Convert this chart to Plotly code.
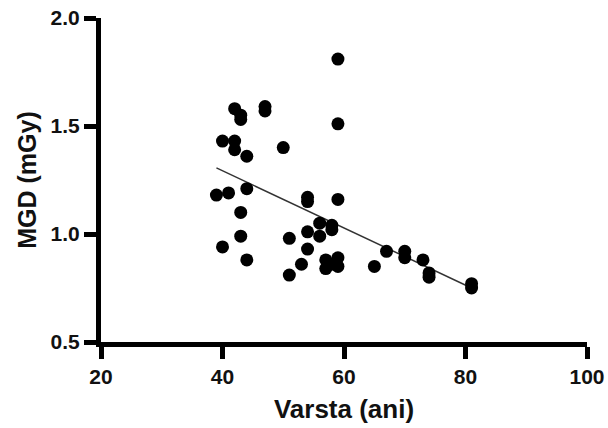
import plotly.graph_objects as go

age = [39, 40, 40, 41, 42, 42, 42, 43, 43, 43, 43, 44, 44, 44, 47, 47, 50, 51, 51, 53,
       54, 54, 54, 54, 56, 56, 57, 57, 58, 58, 58, 59, 59, 59, 59, 59, 65, 67, 70, 70,
       73, 74, 74, 81, 81]
mgd = [1.18, 1.43, 0.94, 1.19, 1.58, 1.43, 1.39, 1.55, 1.53, 1.10, 0.99, 1.36, 1.21, 0.88,
       1.59, 1.57, 1.40, 0.98, 0.81, 0.86, 1.17, 1.15, 1.01, 0.93, 1.05, 0.99, 0.88, 0.84,
       1.04, 1.02, 0.86, 1.81, 1.51, 1.16, 0.89, 0.85, 0.85, 0.92, 0.92, 0.89, 0.88, 0.82,
       0.80, 0.77, 0.75]
fit_x = [39, 81]
fit_y = [1.306, 0.75]

x_ticks = [20, 40, 60, 80, 100]
y_ticks = [0.5, 1.0, 1.5, 2.0]
y_tick_text = ["0.5", "1.0", "1.5", "2.0"]

fig = go.Figure()
fig.add_trace(go.Scatter(x=fit_x, y=fit_y, mode="lines",
                         line=dict(color="#333333", width=1.5), hoverinfo="skip"))
fig.add_trace(go.Scatter(x=age, y=mgd, mode="markers", cliponaxis=False,
                         marker=dict(color="black", size=13, line=dict(width=0))))

font_family = "Liberation Sans, Arial, sans-serif"
axis_common = dict(showline=True, linewidth=5, linecolor="#000000", ticks="outside",
                   ticklen=12, tickwidth=4.5, tickcolor="#000000", showgrid=False,
                   zeroline=False, automargin=False,
                   tickfont=dict(size=21, family=font_family, weight="bold", color="#111111"))
fig.update_layout(
    template="none",
    width=608, height=428,
    margin=dict(l=101, r=21, t=18, b=86),
    paper_bgcolor="white", plot_bgcolor="white",
    showlegend=False,
    font=dict(family=font_family, color="#111111"),
    xaxis=dict(range=[20, 100], tickvals=x_ticks,
               title=dict(text="<b>Varsta (ani)</b>", font=dict(size=26), standoff=14),
               **axis_common),
    yaxis=dict(range=[0.5, 2.0], tickvals=y_ticks, ticktext=y_tick_text,
               title=dict(text="<b>MGD (mGy)</b>", font=dict(size=25), standoff=8),
               **axis_common),
)
fig.write_html("out.html")
